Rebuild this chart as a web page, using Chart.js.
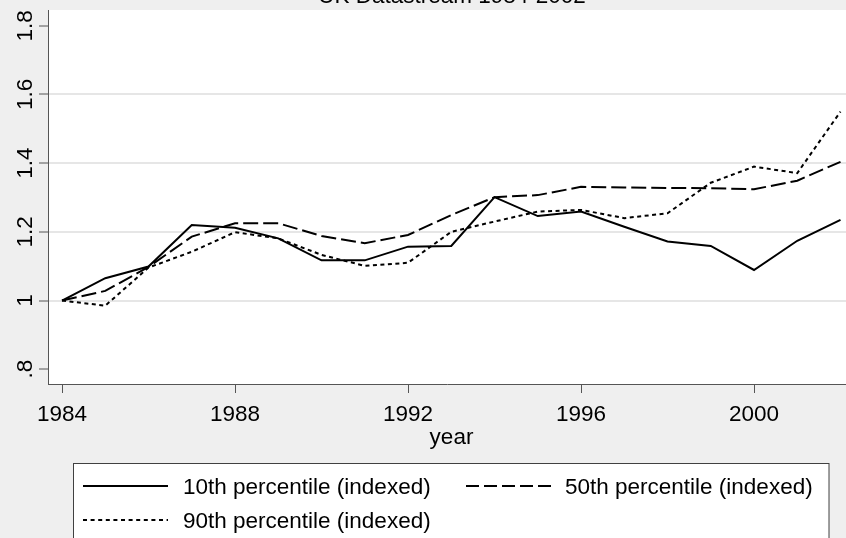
<!DOCTYPE html>
<html>
<head>
<meta charset="utf-8">
<script src="https://cdn.jsdelivr.net/npm/chart.js@4"></script>
<style>
  html, body { margin: 0; padding: 0; background: #efefef; }
  #wrap { width: 846px; height: 538px; }
  canvas { display: block; }
</style>
</head>
<body>
<div id="wrap"><canvas id="c" width="846" height="538"></canvas></div>
<script>
const titleText = 'UK Datastream 1984-2002';
const xTitle = 'year';
const years = [1984,1985,1986,1987,1988,1989,1990,1991,1992,1993,1994,1995,1996,1997,1998,1999,2000,2001,2002];
const p10 = [1.000,1.065,1.099,1.220,1.212,1.181,1.117,1.117,1.157,1.159,1.301,1.246,1.259,1.215,1.172,1.159,1.089,1.174,1.235];
const p50 = [1.000,1.028,1.098,1.186,1.225,1.225,1.188,1.167,1.191,1.249,1.301,1.307,1.331,1.329,1.328,1.327,1.324,1.349,1.404];
const p90 = [1.000,0.985,1.096,1.142,1.199,1.181,1.133,1.101,1.110,1.200,1.230,1.259,1.264,1.240,1.254,1.343,1.390,1.371,1.550];
const seriesLabels = ['10th percentile (indexed)', '50th percentile (indexed)', '90th percentile (indexed)'];
const xTicks = [1984, 1988, 1992, 1996, 2000];
const yTicks = [0.8, 1, 1.2, 1.4, 1.6, 1.8];
const yTickLabels = ['.8', '1', '1.2', '1.4', '1.6', '1.8'];
const yGridValues = [1, 1.2, 1.4, 1.6];

const FONT = '"Liberation Sans", Arial, Helvetica, sans-serif';
const FS = 22.5;
const AXIS = '#555555';

function pts(vals) { return years.map((y, i) => ({ x: y, y: vals[i] })); }

const legendDash = [[], [13, 5], [4, 3.6]];

const decor = {
  id: 'decor',
  beforeDraw(chart) {
    const { ctx, chartArea: a } = chart;
    ctx.save();
    ctx.fillStyle = '#efefef';
    ctx.fillRect(0, 0, chart.width, chart.height);
    ctx.fillStyle = '#ffffff';
    ctx.fillRect(a.left, a.top, a.right - a.left, a.bottom - a.top);
    ctx.restore();
  },
  afterDraw(chart) {
    const { ctx } = chart;
    const ys = chart.scales.y;
    ctx.save();
    ctx.fillStyle = '#000';
    ctx.font = FS + 'px ' + FONT;
    // title (cut at top)
    ctx.textAlign = 'center';
    ctx.textBaseline = 'alphabetic';
    ctx.fillText(titleText, 452, 3);
    // y tick labels rotated
    yTicks.forEach((v, i) => {
      const py = ys.getPixelForValue(v);
      ctx.save();
      ctx.translate(32, py);
      ctx.rotate(-Math.PI / 2);
      ctx.textAlign = 'center';
      ctx.textBaseline = 'alphabetic';
      ctx.fillText(yTickLabels[i], 0, 0);
      ctx.restore();
    });
    // x axis title
    ctx.textAlign = 'center';
    ctx.textBaseline = 'alphabetic';
    ctx.fillText(xTitle, 451.5, 444.3);
    // legend box
    ctx.fillStyle = '#ffffff';
    ctx.fillRect(73.5, 463.5, 755.5, 100);
    ctx.strokeStyle = '#404040';
    ctx.lineWidth = 1;
    ctx.strokeRect(73.5, 463.5, 755.5, 100);
    const items = [
      { x0: 83, x1: 168, ly: 486, tx: 183, ty: 488 },
      { x0: 466, x1: 552, ly: 486, tx: 565, ty: 488 },
      { x0: 83, x1: 168, ly: 520, tx: 183, ty: 522 }
    ];
    chart.data.datasets.forEach((ds, i) => {
      const it = items[i];
      ctx.strokeStyle = '#000';
      ctx.lineWidth = 2;
      ctx.setLineDash(legendDash[i]);
      ctx.beginPath();
      ctx.moveTo(it.x0, it.ly);
      ctx.lineTo(it.x1, it.ly);
      ctx.stroke();
      ctx.setLineDash([]);
      ctx.fillStyle = '#000';
      ctx.textAlign = 'left';
      ctx.textBaseline = 'middle';
      ctx.fillText(ds.label, it.tx, it.ty);
    });
    ctx.restore();
  }
};

new Chart(document.getElementById('c'), {
  type: 'line',
  data: {
    datasets: [
      { label: seriesLabels[0], data: pts(p10), borderColor: '#000', borderWidth: 2, borderDash: [], pointRadius: 0, tension: 0, fill: false },
      { label: seriesLabels[1], data: pts(p50), borderColor: '#000', borderWidth: 2, borderDash: [15, 5], pointRadius: 0, tension: 0, fill: false },
      { label: seriesLabels[2], data: pts(p90), borderColor: '#000', borderWidth: 2, borderDash: [4, 3.5], pointRadius: 0, tension: 0, fill: false }
    ]
  },
  options: {
    responsive: false,
    animation: false,
    devicePixelRatio: 1,
    layout: { padding: { top: 10, left: 0, right: 0, bottom: 0 } },
    plugins: { legend: { display: false }, title: { display: false }, tooltip: { enabled: false } },
    scales: {
      x: {
        type: 'linear',
        min: 1983.676,
        max: 2002.127,
        afterBuildTicks(s) { s.ticks = xTicks.map(v => ({ value: v })); },
        afterFit(s) { s.height = 154; },
        border: { display: true, color: AXIS, width: 1 },
        grid: { drawOnChartArea: false, drawTicks: true, tickLength: 9, tickColor: AXIS, tickWidth: 1 },
        ticks: { color: '#000', font: { family: FONT, size: FS }, padding: 8, maxRotation: 0, autoSkip: false, callback: v => String(v) }
      },
      y: {
        type: 'linear',
        min: 0.757,
        max: 1.846,
        afterBuildTicks(s) { s.ticks = yTicks.map(v => ({ value: v })); },
        afterFit(s) { s.width = 48; },
        border: { display: true, color: AXIS, width: 1 },
        grid: {
          drawTicks: true, tickLength: 9, tickColor: AXIS, tickWidth: 1, lineWidth: 2,
          color: c => (c.tick && yGridValues.some(g => Math.abs(g - c.tick.value) < 1e-6)) ? '#e6e6e6' : 'rgba(0,0,0,0)'
        },
        ticks: { display: false }
      }
    }
  },
  plugins: [decor]
});
</script>
</body>
</html>
